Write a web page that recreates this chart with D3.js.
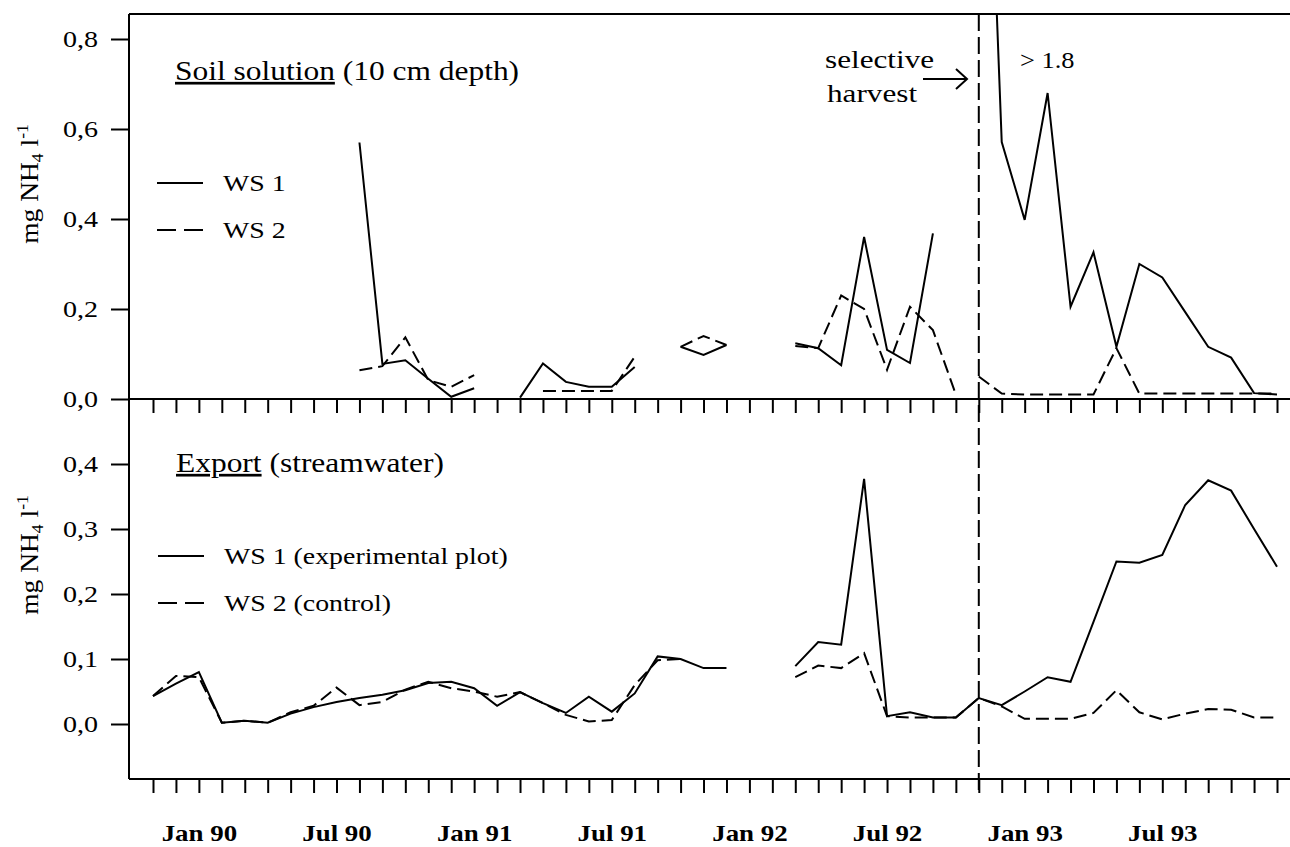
<!DOCTYPE html>
<html>
<head>
<meta charset="utf-8">
<script src="https://cdn.jsdelivr.net/npm/d3@7"></script>
<style>
  body { margin: 0; background: #fff; }
  svg { display: block; font-family: "Liberation Serif", "Times New Roman", serif; }
</style>
</head>
<body>
<div id="chart"></div>
<script>
// months: index 0 = Nov 89 ... index 49 = Dec 93
var months = d3.range(50);
var tickLabels = ["Jan 90", "Jul 90", "Jan 91", "Jul 91", "Jan 92", "Jul 92", "Jan 93", "Jul 93"];
var tickLabelMonths = [2, 8, 14, 20, 26, 32, 38, 44];
var harvestMonth = 36; // Nov 92

// soil solution (10 cm depth), mg NH4 per l
var soilWS1 = [null, null, null, null, null, null, null, null, null,
  0.57, 0.078, 0.086, 0.045, 0.005, 0.024, null, 0.003, 0.079, 0.038, 0.027, 0.027, 0.071,
  null, 0.116, 0.098, 0.12, null, null,
  0.124, 0.113, 0.075, 0.36, 0.109, 0.08, 0.368, null,
  1.9, 0.571, 0.398, 0.68, 0.205, 0.326, 0.116, 0.30, 0.27, 0.193, 0.116, 0.092, 0.013, 0.01];
var soilWS2 = [null, null, null, null, null, null, null, null, null,
  0.064, 0.073, 0.137, 0.042, 0.027, 0.053, null, null, 0.018, 0.018, 0.018, 0.018, 0.094,
  null, 0.116, 0.14, 0.12, null, null,
  0.118, 0.113, 0.23, 0.2, 0.065, 0.205, 0.153, 0.01,
  0.05, 0.012, 0.01, 0.01, 0.01, 0.01, 0.113, 0.012, 0.012, 0.012, 0.012, 0.012, 0.012, 0.012];

// export (streamwater)
var exportWS1 = [0.043, 0.062, 0.08, 0.002, 0.005, 0.002, 0.016, 0.026, 0.034, 0.04, 0.045, 0.052,
  0.063, 0.065, 0.055, 0.028, 0.049, 0.032, 0.017, 0.042, 0.019, 0.047, 0.104, 0.1, 0.086, 0.086,
  null, null,
  0.089, 0.126, 0.122, 0.377, 0.012, 0.018, 0.01, 0.01, 0.04, 0.029, 0.05, 0.072, 0.065, 0.157,
  0.25, 0.248, 0.26, 0.337, 0.375, 0.359, 0.30, 0.242];
var exportWS2 = [0.043, 0.074, 0.072, 0.002, 0.005, 0.002, 0.018, 0.028, 0.056, 0.029, 0.034, 0.053,
  0.065, 0.055, 0.05, 0.042, 0.049, 0.032, 0.014, 0.004, 0.006, 0.06, 0.098, 0.1,
  null, null, null, null,
  0.072, 0.09, 0.086, 0.109, 0.012, 0.01, 0.01, 0.01, 0.04, 0.027, 0.008, 0.008, 0.008, 0.017,
  0.052, 0.018, 0.007, 0.016, 0.023, 0.022, 0.01, 0.01];

var topTicks = [0, 0.2, 0.4, 0.6, 0.8];
var botTicks = [0, 0.1, 0.2, 0.3, 0.4];

var width = 1290, height = 847;
var leftX = 129, rightX = 1290, topY = 14, midY = 399, bottomY = 779;
var sx = 1.17; // the printed type is a little wider than Times

var svg = d3.select("#chart").append("svg")
    .attr("width", width)
    .attr("height", height);

var x = d3.scaleLinear().domain([0, 49]).range([153, 1277]);
var yTop = d3.scaleLinear().domain([0, 0.8]).range([midY, 39]);
var yBot = d3.scaleLinear().domain([0, 0.4]).range([724, 464]);

var comma = function(d) { return d3.format(".1f")(d).replace(".", ","); };

// text helper, stretched horizontally
function label(xx, yy, size, stretch) {
  return svg.append("text")
      .attr("transform", "translate(" + xx + "," + yy + ") scale(" + stretch + ",1)")
      .attr("font-size", size)
      .attr("fill", "#000");
}

// frame lines
svg.append("line").attr("x1", leftX).attr("x2", rightX).attr("y1", topY).attr("y2", topY)
    .attr("stroke", "#000").attr("stroke-width", 2);
svg.append("line").attr("x1", leftX).attr("x2", leftX).attr("y1", topY).attr("y2", bottomY)
    .attr("stroke", "#000").attr("stroke-width", 2);
[midY, bottomY].forEach(function(yy) {
  svg.append("line").attr("x1", leftX).attr("x2", rightX).attr("y1", yy).attr("y2", yy)
      .attr("stroke", "#000").attr("stroke-width", 2);
});

// y axes
function yAxis(scale, ticks) {
  var g = svg.append("g")
      .attr("transform", "translate(" + leftX + ",0)")
      .call(d3.axisLeft(scale).tickValues(ticks).tickFormat(comma).tickSize(18).tickPadding(0));
  g.select(".domain").remove();
  g.selectAll("line").attr("stroke-width", 2);
  g.selectAll("text")
      .attr("x", 0)
      .attr("transform", "translate(-31,0) scale(" + sx + ",1)")
      .attr("font-family", "Liberation Serif").attr("font-size", 24).attr("fill", "#000");
}
yAxis(yTop, topTicks);
yAxis(yBot, botTicks);

// x ticks, both panels
[midY, bottomY].forEach(function(yy) {
  var g = svg.append("g")
      .attr("transform", "translate(0," + yy + ")")
      .call(d3.axisBottom(x).tickValues(months).tickSize(14).tickFormat(""));
  g.select(".domain").remove();
  g.selectAll("line").attr("stroke-width", 2);
});

// month labels
var gl = svg.append("g")
    .attr("transform", "translate(0," + bottomY + ")")
    .call(d3.axisBottom(x).tickValues(tickLabelMonths)
      .tickFormat(function(d, i) { return tickLabels[i]; })
      .tickSize(0).tickPadding(46));
gl.select(".domain").remove();
gl.selectAll("text")
    .attr("transform", "scale(" + sx + ",1)")
    .attr("font-family", "Liberation Serif").attr("font-size", 23)
    .attr("font-weight", "bold").attr("fill", "#000");

// harvest line
svg.append("line")
    .attr("x1", x(harvestMonth)).attr("x2", x(harvestMonth))
    .attr("y1", topY).attr("y2", bottomY + 14)
    .attr("stroke", "#000").attr("stroke-width", 2)
    .attr("stroke-dasharray", "17,6");

// top panel viewport clips the value that runs off (> 1.8)
var topPanel = svg.append("svg")
    .attr("x", leftX).attr("y", topY)
    .attr("width", rightX - leftX).attr("height", midY - topY + 2)
    .attr("viewBox", [leftX, topY, rightX - leftX, midY - topY + 2].join(" "));

// series lines
function drawSeries(parent, values, y, dashed, split) {
  var pts = months.map(function(m) { return {m: m, v: values[m]}; });
  var parts = split
    ? [pts.filter(function(d) { return d.m < harvestMonth; }), pts.filter(function(d) { return d.m >= harvestMonth; })]
    : [pts];
  var line = d3.line()
      .defined(function(d) { return d.v !== null; })
      .x(function(d) { return x(d.m); })
      .y(function(d) { return y(d.v); });
  parts.forEach(function(p) {
    parent.append("path")
        .datum(p)
        .attr("d", line)
        .attr("fill", "none")
        .attr("stroke", "#000")
        .attr("stroke-width", 2)
        .attr("stroke-dasharray", dashed ? "13,6" : null);
  });
}
drawSeries(topPanel, soilWS1, yTop, false, true);
drawSeries(topPanel, soilWS2, yTop, true, true);
drawSeries(svg, exportWS1, yBot, false, false);
drawSeries(svg, exportWS2, yBot, true, false);

// panel titles
function title(xx, yy, under, rest) {
  var t = label(xx, yy, 27, 1.165);
  t.append("tspan").attr("text-decoration", "underline").text(under);
  t.append("tspan").text(" " + rest);
}
title(175, 80, "Soil solution", "(10 cm depth)");
title(176, 472, "Export", "(streamwater)");

// legends
function legend(xx, yy, dashed, text) {
  svg.append("line").attr("x1", xx).attr("x2", xx + 46).attr("y1", yy).attr("y2", yy)
      .attr("stroke", "#000").attr("stroke-width", 2)
      .attr("stroke-dasharray", dashed ? "19,8" : null);
  label(xx + 66, yy + 8, 24, 1.16).text(text);
}
legend(157, 183, false, "WS 1");
legend(157, 230, true, "WS 2");
legend(158, 556, false, "WS 1 (experimental plot)");
legend(158, 603, true, "WS 2 (control)");

// y titles
function yTitle(cy) {
  var t = svg.append("text")
      .attr("transform", "translate(38," + cy + ") rotate(-90) scale(1.1,1)")
      .attr("text-anchor", "middle")
      .attr("font-size", 25);
  t.append("tspan").text("mg NH");
  t.append("tspan").attr("font-size", 16).attr("dy", 5).text("4");
  t.append("tspan").attr("dy", -5).text(" l");
  t.append("tspan").attr("font-size", 16).attr("dy", -10).text("-1");
}
yTitle(184);
yTitle(555);

// harvest annotation
label(825, 68, 26, 1.2).text("selective");
label(827, 102, 26, 1.2).text("harvest");
svg.append("line").attr("x1", 923).attr("x2", 967).attr("y1", 79).attr("y2", 79)
    .attr("stroke", "#000").attr("stroke-width", 2);
svg.append("path").attr("d", "M956,69 L967,79 L956,89")
    .attr("fill", "none").attr("stroke", "#000").attr("stroke-width", 2);
label(1020, 68, 24, 1.1).text("> 1.8");
</script>
</body>
</html>
